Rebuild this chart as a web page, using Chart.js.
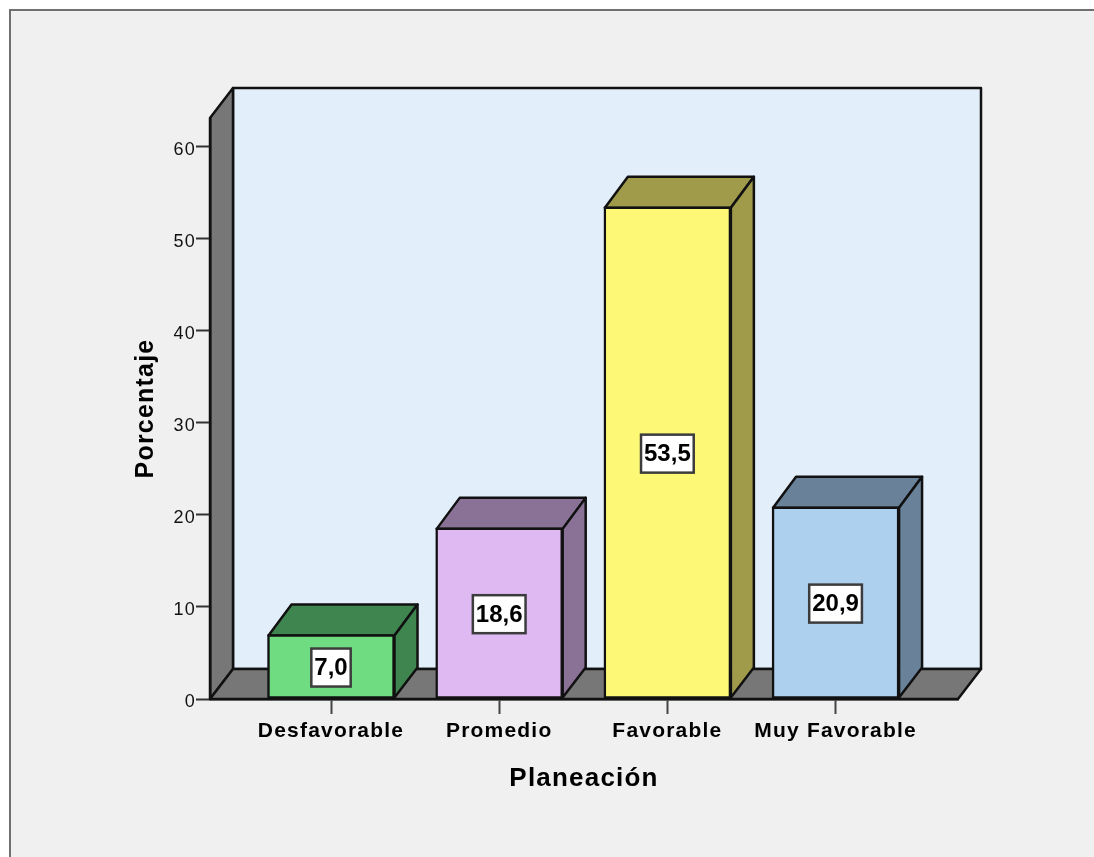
<!DOCTYPE html>
<html lang="es">
<head>
<meta charset="utf-8">
<title>Planeación</title>
<script src="https://cdn.jsdelivr.net/npm/chart.js@4"></script>
<style>
  html, body { margin: 0; padding: 0; width: 1094px; height: 857px; overflow: hidden; background: #ffffff; }
  #frame { position: absolute; left: 9px; top: 9px; right: 0; bottom: 0; background: #f0f0f0;
           border-left: 2px solid #707070; border-top: 2px solid #707070; }
  #chart { position: absolute; left: 0; top: 0; }
</style>
</head>
<body>
<div id="frame"></div>
<canvas id="chart" width="1094" height="857"></canvas>
<script>
const categories = ['Desfavorable', 'Promedio', 'Favorable', 'Muy Favorable'];
const percentages = [7.0, 18.6, 53.5, 20.9];
const frontColors = ['#70dc82', '#dfb9f2', '#fdf976', '#aed0ef'];
const shadeColors = ['#3f8550', '#8a7196', '#9f9b4b', '#6a8299'];

const FONT = '"Liberation Sans", Arial, sans-serif';
const DEPTH_X = 23;
const DEPTH_Y = 30;
const WALL = '#777777';
const BACK_WALL = '#e3eefb';
const LINE = '#111111';

function polygon(ctx, pts, fill) {
  ctx.beginPath();
  pts.forEach(([x, y], i) => i ? ctx.lineTo(x, y) : ctx.moveTo(x, y));
  ctx.closePath();
  ctx.fillStyle = fill;
  ctx.fill();
  ctx.lineWidth = 2.5;
  ctx.lineJoin = 'round';
  ctx.strokeStyle = LINE;
  ctx.stroke();
}

// Back wall, left wall and floor of the 3D box behind the bars.
const boxPlugin = {
  id: 'box',
  beforeDraw(chart) {
    const { ctx, chartArea: a } = chart;
    ctx.letterSpacing = '1.2px';
    ctx.save();
    polygon(ctx, [[a.left + DEPTH_X, a.top - DEPTH_Y], [a.right + DEPTH_X, a.top - DEPTH_Y],
                  [a.right + DEPTH_X, a.bottom - DEPTH_Y], [a.left + DEPTH_X, a.bottom - DEPTH_Y]], BACK_WALL);
    polygon(ctx, [[a.left, a.top], [a.left + DEPTH_X, a.top - DEPTH_Y],
                  [a.left + DEPTH_X, a.bottom - DEPTH_Y], [a.left, a.bottom]], WALL);
    polygon(ctx, [[a.left, a.bottom], [a.left + DEPTH_X, a.bottom - DEPTH_Y],
                  [a.right + DEPTH_X, a.bottom - DEPTH_Y], [a.right, a.bottom]], WALL);
    ctx.restore();
  }
};

// Top and right faces of each bar, extruded from the bar element geometry.
const extrudePlugin = {
  id: 'extrude',
  beforeDatasetsDraw(chart) {
    const { ctx } = chart;
    ctx.save();
    chart.getDatasetMeta(0).data.forEach((bar, i) => {
      const l = bar.x - bar.width / 2 + 1, r = bar.x + bar.width / 2;
      const t = bar.y + 1, b = bar.base - 1;
      polygon(ctx, [[l, t], [l + DEPTH_X, t - DEPTH_Y - 1], [r + DEPTH_X, t - DEPTH_Y - 1], [r, t]], shadeColors[i]);
      polygon(ctx, [[r, t], [r + DEPTH_X, t - DEPTH_Y - 1], [r + DEPTH_X, b - DEPTH_Y], [r, b]], shadeColors[i]);
    });
    ctx.restore();
  }
};

// Boxed value label in the middle of each bar, with a decimal comma.
const valueLabelPlugin = {
  id: 'valueLabels',
  afterDatasetsDraw(chart) {
    const { ctx } = chart;
    ctx.save();
    ctx.letterSpacing = '0px';
    ctx.font = 'bold 24px ' + FONT;
    ctx.textAlign = 'center';
    ctx.textBaseline = 'middle';
    chart.getDatasetMeta(0).data.forEach((bar, i) => {
      const text = percentages[i].toFixed(1).replace('.', ',');
      const w = ctx.measureText(text).width + 6;
      const h = 38;
      const cy = (bar.y + bar.base) / 2 + 1;
      ctx.fillStyle = '#ffffff';
      ctx.fillRect(bar.x - w / 2, cy - h / 2, w, h);
      ctx.lineWidth = 2.5;
      ctx.strokeStyle = '#3c3c3c';
      ctx.strokeRect(bar.x - w / 2, cy - h / 2, w, h);
      ctx.fillStyle = '#000000';
      ctx.fillText(text, bar.x, cy + 1);
    });
    ctx.restore();
  }
};

new Chart(document.getElementById('chart'), {
  type: 'bar',
  data: {
    datasets: [{
      data: percentages.map((v, i) => ({ x: i, y: v })),
      backgroundColor: frontColors,
      borderColor: LINE,
      borderWidth: 2.5,
      borderSkipped: false,
      barThickness: 127
    }]
  },
  options: {
    responsive: false,
    animation: false,
    events: [],
    layout: { padding: { top: 118, right: 136, left: 0, bottom: 0 } },
    plugins: { legend: { display: false }, tooltip: { enabled: false } },
    scales: {
      x: {
        type: 'linear',
        offset: false,
        min: -0.7195,
        max: 3.728,
        afterBuildTicks(scale) { scale.ticks = categories.map((_, i) => ({ value: i })); },
        afterFit(scale) { scale.height = 158; },
        grid: { offset: false, drawOnChartArea: false, drawTicks: true, tickLength: 15, tickColor: '#444444', tickWidth: 2 },
        border: { color: LINE, width: 2.5 },
        ticks: {
          autoSkip: false,
          maxRotation: 0,
          padding: 5,
          color: '#000000',
          font: { family: FONT, size: 21, weight: 'bold' },
          callback: (v) => categories[v]
        },
        title: {
          display: true,
          text: 'Planeación',
          color: '#000000',
          font: { family: FONT, size: 26, weight: 'bold' },
          padding: { top: 10, bottom: 63 }
        }
      },
      y: {
        min: 0,
        max: 63.15,
        afterFit(scale) { scale.width = 210; },
        grid: { drawOnChartArea: false, drawTicks: true, tickLength: 14, tickColor: '#333333', tickWidth: 2 },
        border: { color: LINE, width: 2.5 },
        ticks: {
          stepSize: 10,
          includeBounds: false,
          padding: 0,
          labelOffset: 3,
          color: '#111111',
          font: { family: FONT, size: 18 }
        },
        title: {
          display: true,
          text: 'Porcentaje',
          color: '#000000',
          font: { family: FONT, size: 25, weight: 'bold' },
          padding: { top: 131, bottom: 0 }
        }
      }
    }
  },
  plugins: [boxPlugin, extrudePlugin, valueLabelPlugin]
});
</script>
</body>
</html>
